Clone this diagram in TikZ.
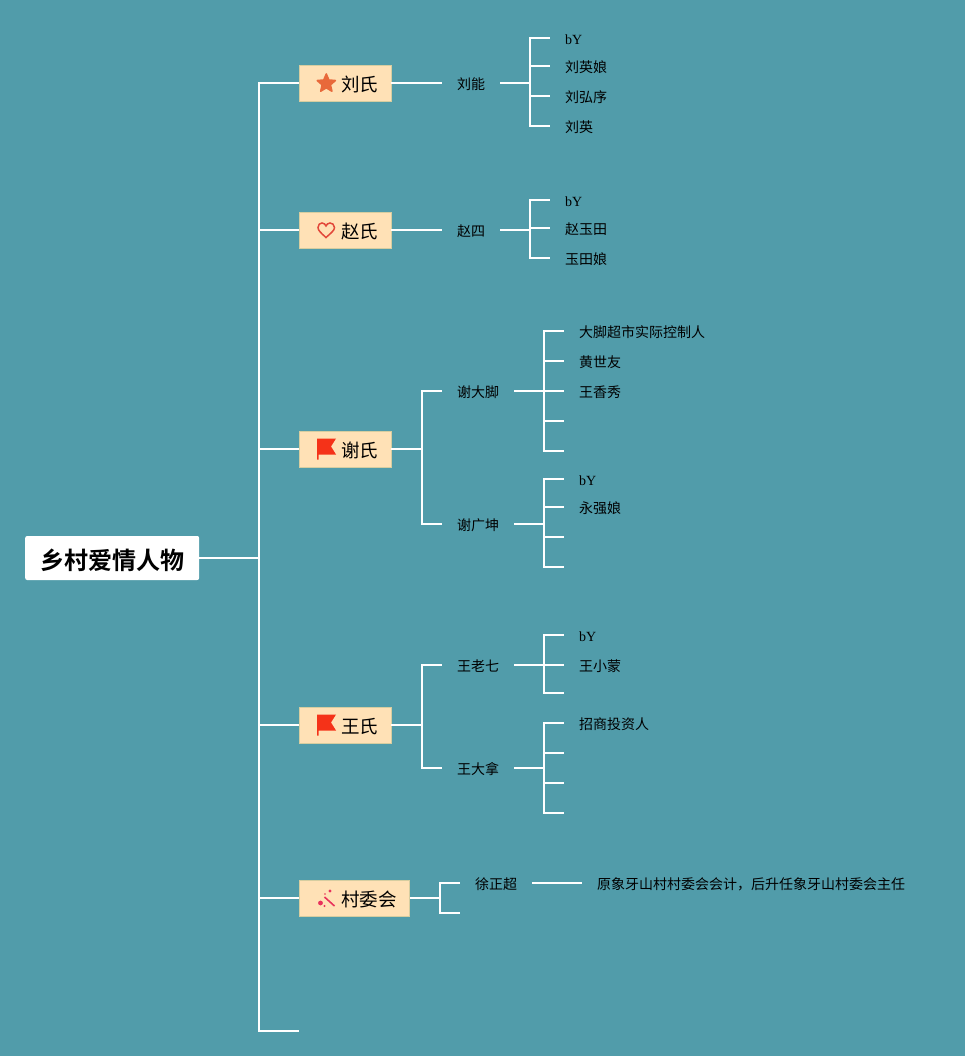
\documentclass[tikz,border=0pt]{standalone}
\usepackage{fontspec}
\setmainfont{Liberation Serif}
\newfontfamily\cjk[BoldFont=Noto Sans CJK SC Bold]{Noto Sans CJK SC}
\usetikzlibrary{shapes.geometric}
\definecolor{bgteal}{RGB}{81,156,170}
\definecolor{topicfill}{RGB}{255,225,182}
\definecolor{topicline}{RGB}{214,205,160}
\definecolor{softorange}{RGB}{232,105,58}
\definecolor{softred}{RGB}{226,72,58}
\definecolor{flagred}{RGB}{245,50,24}
\definecolor{wandpink}{RGB}{232,50,92}
\tikzset{
  branch/.style={draw=white, line width=2pt},
  rootbox/.style={fill=white, rounded corners=2pt, anchor=west, minimum width=174pt, minimum height=44pt, inner sep=0pt, text height=25pt, text depth=2pt, font=\cjk\fontsize{24}{28}\selectfont\bfseries},
  topicbox/.style={fill=topicfill, draw=topicline, line width=0.6pt, anchor=west, minimum height=36pt, inner xsep=13pt, inner ysep=0pt, text height=19pt, text depth=2pt, execute at begin node=\hspace*{28.8pt}, font=\cjk\fontsize{18.5}{22}\selectfont},
  namebox/.style={anchor=west, inner xsep=15pt, inner ysep=0pt, text height=15pt, text depth=2pt, font=\cjk\fontsize{14}{16}\selectfont},
  bybox/.style={namebox, font=\rmfamily\fontsize{14}{16}\selectfont},
}
\begin{document}
\begin{tikzpicture}[x=1pt, y=-1pt]
  \fill[bgteal] (0,0) rectangle (965,1056);
  \useasboundingbox (0,0) rectangle (965,1056);
  % Root and first level
  \node[rootbox] (root) at (25,558) {乡村爱情人物};
  \node[topicbox] (liu) at (299,83) {刘氏};
  \node[topicbox] (zhao) at (299,230) {赵氏};
  \node[topicbox] (xie) at (299,449) {谢氏};
  \node[topicbox] (wang) at (299,725) {王氏};
  \node[topicbox] (cun) at (299,898) {村委会};
  \coordinate (spine) at (259,558);
  \coordinate (lastend) at (299,1031);
  \draw[branch] (root.east) -- (spine);
  \foreach \topic in {liu.west, zhao.west, xie.west, wang.west, cun.west, lastend}
    \draw[branch] (spine) |- (\topic);
  % Icons
  \node[star, star points=5, star point ratio=2.2, fill=softorange, draw=softorange, line join=round, line width=1.6pt, minimum size=19pt, inner sep=0pt] (staricon) at (326.3,83.5) {};
  \draw[softred, line width=1.5pt] (326,237.5) .. controls (321,233) and (318,230.5) .. (318,227.5) .. controls (318,224.5) and (320,223) .. (322,223) .. controls (324,223) and (325.5,224.5) .. (326,226) .. controls (326.5,224.5) and (328,223) .. (330,223) .. controls (332,223) and (334.5,224.5) .. (334.5,227.5) .. controls (334.5,230.5) and (331,233) .. (326,237.5) -- cycle;
  \foreach \flagy in {449,725}
    \fill[flagred, shift={(0,\flagy)}] (317,-10.5) -- (336,-10.5) -- (331,-2.5) -- (336,5.5) -- (318.5,5.5) -- (318.5,10.5) -- (317,10.5) -- cycle;
  \draw[wandpink, line width=1.6pt] (324.5,897) -- (334.5,906);
  \fill[wandpink] (320.5,903) circle (2.4pt) (330,891) circle (1.7pt) (324.5,906) circle (1.2pt) (325,894) circle (0.9pt);
  % Liu
  \node[namebox] (liuneng) at (442,83) {刘能};
  \coordinate (jliu) at (530,83);
  \node[bybox] (liua) at (550,38) {bY};
  \node[namebox] (liub) at (550,66) {刘英娘};
  \node[namebox] (liuc) at (550,96) {刘弘序};
  \node[namebox] (liud) at (550,126) {刘英};
  \draw[branch] (liu.east) -- (liuneng.west);
  \draw[branch] (liuneng.east) -- (jliu);
  \foreach \leaf in {liua,liub,liuc,liud}
    \draw[branch] (jliu) |- (\leaf.west);
  % Zhao
  \node[namebox] (zhaosi) at (442,230) {赵四};
  \coordinate (jzhao) at (530,230);
  \node[bybox] (zhaoa) at (550,200) {bY};
  \node[namebox] (zhaob) at (550,228) {赵玉田};
  \node[namebox] (zhaoc) at (550,258) {玉田娘};
  \draw[branch] (zhao.east) -- (zhaosi.west);
  \draw[branch] (zhaosi.east) -- (jzhao);
  \foreach \leaf in {zhaoa,zhaob,zhaoc}
    \draw[branch] (jzhao) |- (\leaf.west);
  % Xie
  \coordinate (jxie) at (422,449);
  \node[namebox] (dajiao) at (442,391) {谢大脚};
  \node[namebox] (guangkun) at (442,524) {谢广坤};
  \draw[branch] (xie.east) -- (jxie);
  \draw[branch] (jxie) |- (dajiao.west);
  \draw[branch] (jxie) |- (guangkun.west);
  \coordinate (jdajiao) at (544,391);
  \node[namebox] (dja) at (564,331) {大脚超市实际控制人};
  \node[namebox] (djb) at (564,361) {黄世友};
  \node[namebox] (djc) at (564,391) {王香秀};
  \coordinate (djd) at (564,421);
  \coordinate (dje) at (564,451);
  \draw[branch] (dajiao.east) -- (jdajiao);
  \foreach \leaf in {dja.west,djb.west,djc.west,djd,dje}
    \draw[branch] (jdajiao) |- (\leaf);
  \coordinate (jguangkun) at (544,524);
  \node[bybox] (gka) at (564,479) {bY};
  \node[namebox] (gkb) at (564,507) {永强娘};
  \coordinate (gkc) at (564,537);
  \coordinate (gkd) at (564,567);
  \draw[branch] (guangkun.east) -- (jguangkun);
  \foreach \leaf in {gka.west,gkb.west,gkc,gkd}
    \draw[branch] (jguangkun) |- (\leaf);
  % Wang
  \coordinate (jwang) at (422,725);
  \node[namebox] (laoqi) at (442,665) {王老七};
  \node[namebox] (dana) at (442,768) {王大拿};
  \draw[branch] (wang.east) -- (jwang);
  \draw[branch] (jwang) |- (laoqi.west);
  \draw[branch] (jwang) |- (dana.west);
  \coordinate (jlaoqi) at (544,665);
  \node[bybox] (lqa) at (564,635) {bY};
  \node[namebox] (lqb) at (564,665) {王小蒙};
  \coordinate (lqc) at (564,693);
  \draw[branch] (laoqi.east) -- (jlaoqi);
  \foreach \leaf in {lqa.west,lqb.west,lqc}
    \draw[branch] (jlaoqi) |- (\leaf);
  \coordinate (jdana) at (544,768);
  \node[namebox] (dna) at (564,723) {招商投资人};
  \coordinate (dnb) at (564,753);
  \coordinate (dnc) at (564,783);
  \coordinate (dnd) at (564,813);
  \draw[branch] (dana.east) -- (jdana);
  \foreach \leaf in {dna.west,dnb,dnc,dnd}
    \draw[branch] (jdana) |- (\leaf);
  % Village committee
  \coordinate (jcun) at (440,898);
  \node[namebox] (xu) at (460,883) {徐正超};
  \coordinate (xuempty) at (460,913);
  \node[namebox] (xunote) at (582,883) {原象牙山村村委会会计，后升任象牙山村委会主任};
  \draw[branch] (cun.east) -- (jcun);
  \draw[branch] (jcun) |- (xu.west);
  \draw[branch] (jcun) |- (xuempty);
  \draw[branch] (xu.east) -- (xunote.west);
\end{tikzpicture}
\end{document}
